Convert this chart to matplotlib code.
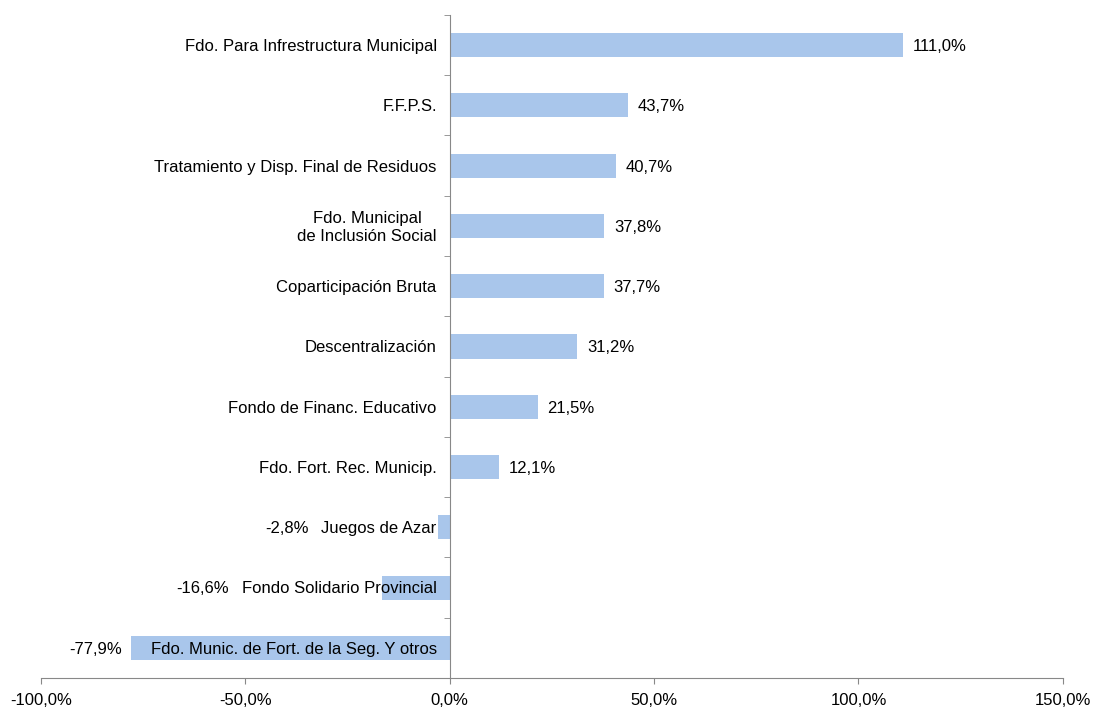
import matplotlib
matplotlib.use('Agg')
import matplotlib.pyplot as plt
import numpy as np

plt.rcParams['font.family'] = ['Liberation Sans', 'DejaVu Sans']
plt.rcParams['font.size'] = 12

# datos
categorias = [
    'Fdo. Para Infrestructura Municipal',
    'F.F.P.S.',
    'Tratamiento y Disp. Final de Residuos',
    'Fdo. Municipal\nde Inclusión Social',
    'Coparticipación Bruta',
    'Descentralización',
    'Fondo de Financ. Educativo',
    'Fdo. Fort. Rec. Municip.',
    'Juegos de Azar',
    'Fondo Solidario Provincial',
    'Fdo. Munic. de Fort. de la Seg. Y otros',
]
variacion = [111.0, 43.7, 40.7, 37.8, 37.7, 31.2, 21.5, 12.1, -2.8, -16.6, -77.9]
xticks = [-100, -50, 0, 50, 100, 150]

def fmt(v):
    return f'{v:.1f}%'.replace('.', ',')

fig = plt.figure(figsize=(10.94, 7.11), dpi=100)
ax = fig.add_axes([0.0375, 0.0464, 0.934, 0.9326])

y = np.arange(len(categorias))
ax.barh(y, variacion, height=0.4, color='#a9c6eb', zorder=1)

ax.set_xlim(-100, 150)
ax.set_ylim(len(categorias) - 0.5, -0.5)

gris = '#888888'
for s in ['top', 'right']:
    ax.spines[s].set_visible(False)
ax.spines['left'].set_position(('data', 0))
ax.spines['left'].set_color(gris)
ax.spines['bottom'].set_color(gris)

ax.set_xticks(xticks)
ax.set_xticklabels([fmt(t) for t in xticks])
ax.tick_params(axis='x', colors=gris, length=4, labelcolor='black', pad=7)

ax.set_yticks([])
ax.set_yticks(np.arange(-0.5, len(categorias)), minor=True)
ax.tick_params(axis='y', which='minor', colors=gris, length=4, direction='out')

# etiquetas de categoria
etiquetas = []
for i, c in enumerate(categorias):
    t = ax.annotate(c, xy=(0, i), xytext=(-9.4, -1), textcoords='offset points',
                    ha='right', va='center', multialignment='center',
                    linespacing=1.25, zorder=3)
    etiquetas.append(t)

fig.canvas.draw()
r = fig.canvas.get_renderer()

# etiquetas de valores
for i, v in enumerate(variacion):
    if v >= 0:
        ax.annotate(fmt(v), xy=(v, i), xytext=(7, -1), textcoords='offset points',
                    ha='left', va='center')
    else:
        bx = ax.transData.transform((v, i))[0]
        tx = etiquetas[i].get_window_extent(r).x0
        if bx < tx:
            ax.annotate(fmt(v), xy=(v, i), xytext=(-6.5, -1), textcoords='offset points',
                        ha='right', va='center')
        else:
            ax.annotate(fmt(v), xy=(0, 0.5), xycoords=etiquetas[i], xytext=(-9, 0),
                        textcoords='offset points', ha='right', va='center')

fig.savefig('out.png', dpi=100)
